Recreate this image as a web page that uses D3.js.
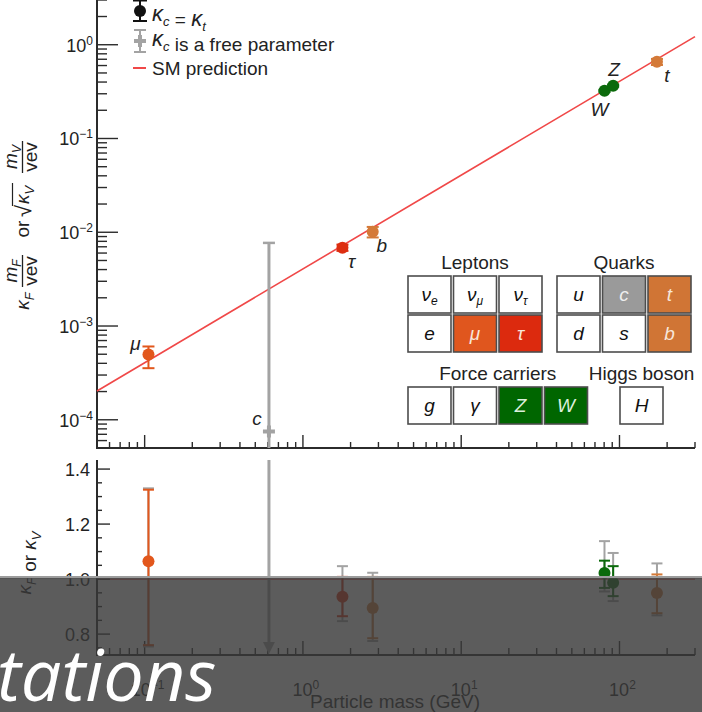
<!DOCTYPE html>
<html><head><meta charset="utf-8">
<script src="https://cdn.jsdelivr.net/npm/d3@7"></script>
<style>
body{margin:0;background:#fff;}
svg{display:block;font-family:"Liberation Sans",Arial,Helvetica,sans-serif;}
</style>
</head><body>
<svg id="c" width="702" height="712"></svg>
<script>
// ---------------- DATA ----------------
const particles = ["μ","τ","b","W","Z","t"];
const mass = [0.1057, 1.777, 2.76, 80.4, 91.19, 172.5];
const coupling = [4.96e-4, 6.85e-3, 1.01e-2, 0.323, 0.365, 0.659];
const couplingLo = [3.55e-4, 6.33e-3, 8.8e-3, 0.314, 0.357, 0.608];
const couplingHi = [6.05e-4, 7.38e-3, 1.14e-2, 0.330, 0.375, 0.706];
const kappa = [1.065, 0.936, 0.895, 1.022, 0.987, 0.949];
const kappaLo = [0.760, 0.865, 0.785, 0.968, 0.938, 0.876];
const kappaHi = [1.325, 1.008, 1.008, 1.067, 1.047, 1.017];
const kappaFreeLo = [0.755, 0.847, 0.775, 0.955, 0.920, 0.868];
const kappaFreeHi = [1.330, 1.047, 1.023, 1.138, 1.095, 1.057];
const pointColors = ["#e2571c","#dd2e10","#d47a38","#0b6a0b","#0b6a0b","#d47a38"];
// charm quark, kappa_c free parameter
const charmName = "c";
const charmMass = 0.61;
const charmCoupling = 7.5e-5;
const charmCouplingHi = 7.7e-3;
const charmCouplingLo = 1e-6;
const charmKappaLo = 0.735;
const charmKappaHi = 2.0;
// SM prediction
const smMass = [0.05, 300];
const smCoupling = [2.03e-4, 1.22];
const smKappa = 1;
// ticks
const xMajorTicks = [0.1, 1, 10, 100];
const xTickExp = ["−1","0","1","2"];
const yTopMajorTicks = [1e-4, 1e-3, 1e-2, 1e-1, 1];
const yTopTickExp = ["−4","−3","−2","−1","0"];
const yBotMajorTicks = [0.8, 1.0, 1.2, 1.4];
const yBotTickLabels = ["0.8","1.0","1.2","1.4"];
// periodic-table legend
const tableGroups = ["Leptons","Quarks","Force carriers","Higgs boson"];
const tableCells = [
  {g:0,r:0,c:0,s:"ν",sub:"e",fill:"#fff"},
  {g:0,r:0,c:1,s:"ν",sub:"μ",fill:"#fff"},
  {g:0,r:0,c:2,s:"ν",sub:"τ",fill:"#fff"},
  {g:0,r:1,c:0,s:"e",sub:"",fill:"#fff"},
  {g:0,r:1,c:1,s:"μ",sub:"",fill:"#e0561e"},
  {g:0,r:1,c:2,s:"τ",sub:"",fill:"#dc2a0e"},
  {g:1,r:0,c:0,s:"u",sub:"",fill:"#fff"},
  {g:1,r:0,c:1,s:"c",sub:"",fill:"#9a9a9a"},
  {g:1,r:0,c:2,s:"t",sub:"",fill:"#d07535"},
  {g:1,r:1,c:0,s:"d",sub:"",fill:"#fff"},
  {g:1,r:1,c:1,s:"s",sub:"",fill:"#fff"},
  {g:1,r:1,c:2,s:"b",sub:"",fill:"#d07535"},
  {g:2,r:0,c:0,s:"g",sub:"",fill:"#fff"},
  {g:2,r:0,c:1,s:"γ",sub:"",fill:"#fff"},
  {g:2,r:0,c:2,s:"Z",sub:"",fill:"#006600"},
  {g:2,r:0,c:3,s:"W",sub:"",fill:"#006600"},
  {g:3,r:0,c:0,s:"H",sub:"",fill:"#fff"}
];

// ---------------- DRAW ----------------
const svg = d3.select("#c");
const ink = "#2b2b2b";
const x = d3.scaleLog().domain([0.05, 300]).range([97, 695]);
const yT = d3.scaleLog().domain([5e-5, 3]).range([448, 0]);
const yB = d3.scaleLinear().domain([0.724, 1.433]).range([655, 460]);
const isIn = (v, arr) => arr.some(a => Math.abs(a - v) / a < 1e-6);

// ---- top panel axes ----
const gTop = svg.append("g");
gTop.append("line").attr("x1",97).attr("x2",97).attr("y1",0).attr("y2",448)
  .attr("stroke",ink).attr("stroke-width",2);
gTop.append("line").attr("x1",96).attr("x2",695).attr("y1",448).attr("y2",448)
  .attr("stroke",ink).attr("stroke-width",2);
yT.ticks().forEach(t => {
  const maj = isIn(t, yTopMajorTicks);
  gTop.append("line").attr("x1",97).attr("x2",97 + (maj?21:10))
    .attr("y1",yT(t)).attr("y2",yT(t)).attr("stroke",ink).attr("stroke-width",1.4);
});
yTopMajorTicks.forEach((t,i) => {
  const tx = gTop.append("text").attr("x",93).attr("y",yT(t)+7)
    .attr("text-anchor","end").attr("font-size",18).attr("fill","#222");
  tx.append("tspan").text("10");
  tx.append("tspan").attr("dy",-7).attr("font-size",12).text(yTopTickExp[i]);
});
x.ticks().forEach(t => {
  const maj = isIn(t, xMajorTicks);
  gTop.append("line").attr("x1",x(t)).attr("x2",x(t))
    .attr("y1",448).attr("y2",448 - (maj?13:6)).attr("stroke",ink).attr("stroke-width",1.4);
});

// SM line top
gTop.append("line")
  .attr("x1",x(smMass[0])).attr("y1",yT(smCoupling[0]))
  .attr("x2",x(smMass[1])).attr("y2",yT(smCoupling[1]))
  .attr("stroke","#f04848").attr("stroke-width",1.6);

// charm gray bar (top)
function plusMarker(g, cx, cy, col){
  g.append("line").attr("x1",cx-6).attr("x2",cx+6).attr("y1",cy).attr("y2",cy).attr("stroke",col).attr("stroke-width",4);
  g.append("line").attr("x1",cx).attr("x2",cx).attr("y1",cy-6).attr("y2",cy+6).attr("stroke",col).attr("stroke-width",4);
}
const grey = "#a3a3a3";
{
  const cx = x(charmMass);
  const yHi = yT(charmCouplingHi), yLo = Math.min(yT(charmCouplingLo), 448);
  gTop.append("line").attr("x1",cx).attr("x2",cx).attr("y1",yHi).attr("y2",yLo)
    .attr("stroke",grey).attr("stroke-width",3);
  gTop.append("line").attr("x1",cx-6).attr("x2",cx+6).attr("y1",yHi).attr("y2",yHi)
    .attr("stroke",grey).attr("stroke-width",2.5);
  plusMarker(gTop, cx, yT(charmCoupling), grey);
  gTop.append("text").attr("x",cx-12).attr("y",yT(charmCoupling)-6)
    .attr("text-anchor","middle").attr("font-size",19).attr("font-style","italic").attr("fill","#222").text(charmName);
}

// top points
const labelOff = {"μ":[-13,-5],"τ":[9,20],"b":[9,20],"W":[-5,25],"Z":[1,-10],"t":[10,20]};
particles.forEach((p,i) => {
  const cx = x(mass[i]), col = pointColors[i];
  const y0 = yT(couplingLo[i]), y1 = yT(couplingHi[i]);
  gTop.append("line").attr("x1",cx).attr("x2",cx).attr("y1",y0).attr("y2",y1).attr("stroke",col).attr("stroke-width",2);
  [y0,y1].forEach(yy => gTop.append("line").attr("x1",cx-6).attr("x2",cx+6).attr("y1",yy).attr("y2",yy).attr("stroke",col).attr("stroke-width",2));
  gTop.append("circle").attr("cx",cx).attr("cy",yT(coupling[i])).attr("r",6).attr("fill",col);
  const o = labelOff[p];
  gTop.append("text").attr("x",cx+o[0]).attr("y",yT(coupling[i])+o[1])
    .attr("text-anchor","middle").attr("font-size",19).attr("font-style","italic").attr("fill","#222").text(p);
});

// ---- legend ----
const leg = svg.append("g");
leg.append("line").attr("x1",140).attr("x2",140).attr("y1",0).attr("y2",21).attr("stroke","#111").attr("stroke-width",2);
leg.append("line").attr("x1",133).attr("x2",147).attr("y1",21).attr("y2",21).attr("stroke","#111").attr("stroke-width",2);
leg.append("line").attr("x1",133).attr("x2",147).attr("y1",0.5).attr("y2",0.5).attr("stroke","#111").attr("stroke-width",2);
leg.append("circle").attr("cx",140).attr("cy",11).attr("r",6).attr("fill","#111");
leg.append("line").attr("x1",140).attr("x2",140).attr("y1",30).attr("y2",52).attr("stroke",grey).attr("stroke-width",2);
leg.append("line").attr("x1",134).attr("x2",146).attr("y1",30).attr("y2",30).attr("stroke",grey).attr("stroke-width",2);
leg.append("line").attr("x1",134).attr("x2",146).attr("y1",52).attr("y2",52).attr("stroke",grey).attr("stroke-width",2);
plusMarker(leg, 140, 41, grey);
leg.append("line").attr("x1",133).attr("x2",146).attr("y1",68).attr("y2",68).attr("stroke","#f04848").attr("stroke-width",2);
function kap(t, sub, big){
  t.append("tspan").attr("font-style","italic").attr("font-size", big ? 22 : null).text("κ");
  t.append("tspan").attr("font-style","italic").attr("font-size",13).attr("dy",5).text(sub);
  t.append("tspan").attr("dy",-5).text("");
}
{
  const t1 = leg.append("text").attr("x",152).attr("y",21).attr("font-size",19).attr("fill","#222");
  kap(t1,"c",true); t1.append("tspan").text(" = "); kap(t1,"t",true);
  const t2 = leg.append("text").attr("x",152).attr("y",46).attr("font-size",19).attr("fill","#222");
  kap(t2,"c",true); t2.append("tspan").text(" is a free parameter");
  leg.append("text").attr("x",152).attr("y",75).attr("font-size",19).attr("fill","#222").text("SM prediction");
}

// ---- top y label (rotated) ----
{
  const g = svg.append("g").attr("transform","rotate(-90)").attr("fill","#222").attr("font-size",19);
  const k1 = g.append("text").attr("x",-301).attr("y",29).attr("text-anchor","middle");
  kap(k1,"F");
  const n1 = g.append("text").attr("x",-271).attr("y",17).attr("text-anchor","middle");
  n1.append("tspan").attr("font-style","italic").text("m");
  n1.append("tspan").attr("font-style","italic").attr("font-size",12).attr("dy",4).text("F");
  g.append("line").attr("x1",-287).attr("x2",-255).attr("y1",22.5).attr("y2",22.5).attr("stroke","#222").attr("stroke-width",1.3);
  g.append("text").attr("x",-271).attr("y",37).attr("text-anchor","middle").text("vev");
  g.append("text").attr("x",-229).attr("y",28.5).attr("text-anchor","middle").text("or");
  g.append("text").attr("x",-205).attr("y",31).attr("text-anchor","end").attr("font-size",22).text("√");
  const k2 = g.append("text").attr("x",-204).attr("y",29).attr("text-anchor","start");
  kap(k2,"V");
  g.append("line").attr("x1",-206).attr("x2",-183).attr("y1",12.5).attr("y2",12.5).attr("stroke","#222").attr("stroke-width",1.2);
  const n2 = g.append("text").attr("x",-157).attr("y",17).attr("text-anchor","middle");
  n2.append("tspan").attr("font-style","italic").text("m");
  n2.append("tspan").attr("font-style","italic").attr("font-size",12).attr("dy",4).text("V");
  g.append("line").attr("x1",-173).attr("x2",-141).attr("y1",22.5).attr("y2",22.5).attr("stroke","#222").attr("stroke-width",1.3);
  g.append("text").attr("x",-157).attr("y",37).attr("text-anchor","middle").text("vev");
}

// ---- periodic table legend ----
{
  const gx = [408, 557, 408, 620], gy = [276, 276, 387, 387];
  const nCols = [3,3,4,1];
  const cw = 43, ch = 37, step = 45.5, rstep = 39;
  const g = svg.append("g");
  tableGroups.forEach((name,i) => {
    const w = nCols[i]*step - (step-cw);
    g.append("text").attr("x",gx[i]+w/2).attr("y",gy[i]-7.5).attr("text-anchor","middle")
      .attr("font-size",19).attr("fill","#222").text(name);
  });
  tableCells.forEach(c => {
    const cx = gx[c.g] + c.c*step, cy = gy[c.g] + c.r*rstep;
    g.append("rect").attr("x",cx).attr("y",cy).attr("width",cw).attr("height",ch)
      .attr("fill",c.fill).attr("stroke","#4d4d4d").attr("stroke-width",1.6);
    const light = c.fill !== "#fff";
    const t = g.append("text").attr("x",cx+cw/2).attr("y",cy+ch/2+6.5).attr("text-anchor","middle")
      .attr("font-size",19).attr("font-style","italic")
      .attr("fill", light ? (c.fill==="#006600" ? "#dcefdc" : (c.fill==="#9a9a9a" ? "#eeeeee" : "#f7e6da")) : "#111");
    t.append("tspan").text(c.s);
    if (c.sub) t.append("tspan").attr("font-size",12).attr("dy",4).text(c.sub);
  });
}

// ---- bottom panel ----
const gB = svg.append("g");
// SM reference kappa = 1
gB.append("line").attr("x1",97).attr("x2",695).attr("y1",yB(smKappa)).attr("y2",yB(smKappa))
  .attr("stroke","#e85050").attr("stroke-width",1.2);
gB.append("line").attr("x1",97).attr("x2",97).attr("y1",460).attr("y2",655).attr("stroke",ink).attr("stroke-width",2);
gB.append("line").attr("x1",96).attr("x2",695).attr("y1",655).attr("y2",655).attr("stroke",ink).attr("stroke-width",2);
d3.range(0.75, 1.43, 0.05).forEach(t => {
  const maj = yBotMajorTicks.some(m => Math.abs(m-t) < 1e-6);
  gB.append("line").attr("x1",97).attr("x2",97+(maj?13:5)).attr("y1",yB(t)).attr("y2",yB(t))
    .attr("stroke",ink).attr("stroke-width",1.4);
});
yBotMajorTicks.forEach((t,i) => {
  gB.append("text").attr("x",90).attr("y",yB(t)+6.5).attr("text-anchor","end")
    .attr("font-size",18).attr("fill","#222").text(yBotTickLabels[i]);
});
x.ticks().forEach(t => {
  const maj = isIn(t, xMajorTicks);
  gB.append("line").attr("x1",x(t)).attr("x2",x(t)).attr("y1",655).attr("y2",655-(maj?14:7))
    .attr("stroke",ink).attr("stroke-width",1.4);
});
xMajorTicks.forEach((t,i) => {
  const tx = gB.append("text").attr("x",x(t)+3).attr("y",696).attr("text-anchor","middle")
    .attr("font-size",18).attr("fill","#222");
  tx.append("tspan").text("10");
  tx.append("tspan").attr("dy",-7).attr("font-size",12).text(xTickExp[i]);
});
gB.append("text").attr("x",395).attr("y",708).attr("text-anchor","middle").attr("font-size",19)
  .attr("fill","#222").text("Particle mass (GeV)");
{
  const g = gB.append("g").attr("transform","rotate(-90)").attr("fill","#222").attr("font-size",19);
  const t = g.append("text").attr("x",-563).attr("y",31).attr("text-anchor","middle");
  kap(t,"F"); t.append("tspan").text(" or "); kap(t,"V");
}
// charm bar bottom
{
  const cx = x(charmMass);
  const yTopC = yB(Math.min(charmKappaHi, 1.433));
  const yArrow = yB(charmKappaLo);
  gB.append("line").attr("x1",cx).attr("x2",cx).attr("y1",yTopC).attr("y2",yArrow-8)
    .attr("stroke",grey).attr("stroke-width",3);
  gB.append("path").attr("d",`M${cx-6},${yArrow-10}L${cx+6},${yArrow-10}L${cx},${yArrow+2}Z`).attr("fill",grey);
}
// kappa points
particles.forEach((p,i) => {
  const cx = x(mass[i]), col = pointColors[i];
  const bar = (lo,hi,c) => {
    gB.append("line").attr("x1",cx).attr("x2",cx).attr("y1",yB(lo)).attr("y2",yB(hi)).attr("stroke",c).attr("stroke-width",2);
    [lo,hi].forEach(v => gB.append("line").attr("x1",cx-5.5).attr("x2",cx+5.5).attr("y1",yB(v)).attr("y2",yB(v)).attr("stroke",c).attr("stroke-width",2));
  };
  bar(kappaFreeLo[i], kappaFreeHi[i], grey);
  bar(kappaLo[i], kappaHi[i], col);
  gB.append("circle").attr("cx",cx).attr("cy",yB(kappa[i])).attr("r",6).attr("fill",col);
});

// ---- caption overlay ----
svg.append("rect").attr("x",0).attr("y",576).attr("width",702).attr("height",2.5).attr("fill","#9c9c9c");
svg.append("rect").attr("x",0).attr("y",578).attr("width",702).attr("height",134).attr("fill","rgba(56,56,56,0.82)");
svg.append("text").attr("x",-3).attr("y",701).attr("font-family","'Open Sans',sans-serif")
  .attr("font-style","italic").attr("font-size",72).attr("fill","#fff").text("tations");
</script>
</body></html>
